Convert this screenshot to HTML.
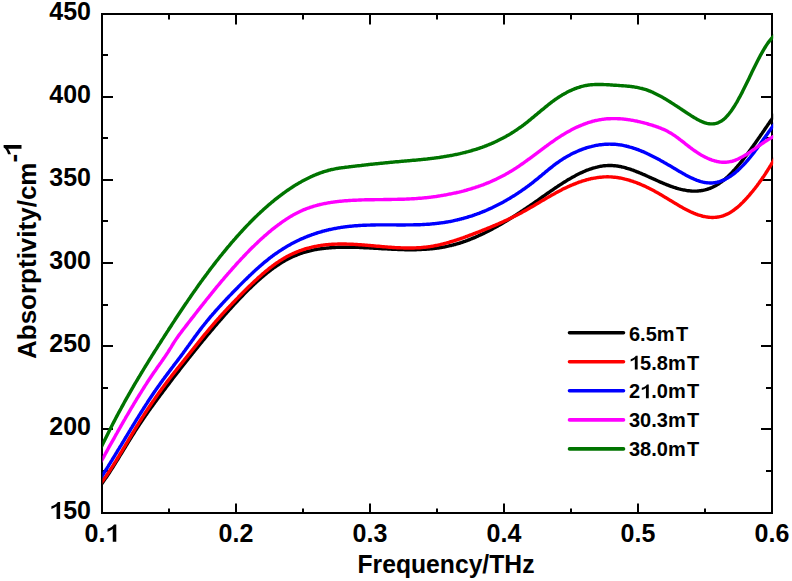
<!DOCTYPE html>
<html><head><meta charset="utf-8"><style>
html,body{margin:0;padding:0;background:#fff;}
svg{display:block;}
text{font-family:"Liberation Sans",sans-serif;font-weight:bold;font-size:25px;fill:#000;}
.lg{font-size:20px;}
.ax{font-size:26px;}
</style></head><body>
<svg width="792" height="581" viewBox="0 0 792 581">
<rect width="792" height="581" fill="#fff"/>
<g stroke="#000" stroke-width="2" fill="none">
<line x1="169.00000000000003" y1="513" x2="169.00000000000003" y2="508.5"/>
<line x1="169.00000000000003" y1="14" x2="169.00000000000003" y2="19.5"/>
<line x1="236.0" y1="513" x2="236.0" y2="503.5"/>
<line x1="236.0" y1="14" x2="236.0" y2="24.5"/>
<line x1="303.0" y1="513" x2="303.0" y2="508.5"/>
<line x1="303.0" y1="14" x2="303.0" y2="19.5"/>
<line x1="370.00000000000006" y1="513" x2="370.00000000000006" y2="503.5"/>
<line x1="370.00000000000006" y1="14" x2="370.00000000000006" y2="24.5"/>
<line x1="436.99999999999994" y1="513" x2="436.99999999999994" y2="508.5"/>
<line x1="436.99999999999994" y1="14" x2="436.99999999999994" y2="19.5"/>
<line x1="504.00000000000006" y1="513" x2="504.00000000000006" y2="503.5"/>
<line x1="504.00000000000006" y1="14" x2="504.00000000000006" y2="24.5"/>
<line x1="571.0000000000001" y1="513" x2="571.0000000000001" y2="508.5"/>
<line x1="571.0000000000001" y1="14" x2="571.0000000000001" y2="19.5"/>
<line x1="638.0" y1="513" x2="638.0" y2="503.5"/>
<line x1="638.0" y1="14" x2="638.0" y2="24.5"/>
<line x1="705.0000000000001" y1="513" x2="705.0000000000001" y2="508.5"/>
<line x1="705.0000000000001" y1="14" x2="705.0000000000001" y2="19.5"/>
<line x1="102" y1="471.00" x2="108" y2="471.00"/>
<line x1="772" y1="471.00" x2="766" y2="471.00"/>
<line x1="102" y1="429.00" x2="113" y2="429.00"/>
<line x1="772" y1="429.00" x2="761" y2="429.00"/>
<line x1="102" y1="388.00" x2="108" y2="388.00"/>
<line x1="772" y1="388.00" x2="766" y2="388.00"/>
<line x1="102" y1="346.00" x2="113" y2="346.00"/>
<line x1="772" y1="346.00" x2="761" y2="346.00"/>
<line x1="102" y1="305.00" x2="108" y2="305.00"/>
<line x1="772" y1="305.00" x2="766" y2="305.00"/>
<line x1="102" y1="263.00" x2="113" y2="263.00"/>
<line x1="772" y1="263.00" x2="761" y2="263.00"/>
<line x1="102" y1="221.00" x2="108" y2="221.00"/>
<line x1="772" y1="221.00" x2="766" y2="221.00"/>
<line x1="102" y1="180.00" x2="113" y2="180.00"/>
<line x1="772" y1="180.00" x2="761" y2="180.00"/>
<line x1="102" y1="138.00" x2="108" y2="138.00"/>
<line x1="772" y1="138.00" x2="766" y2="138.00"/>
<line x1="102" y1="97.00" x2="113" y2="97.00"/>
<line x1="772" y1="97.00" x2="761" y2="97.00"/>
<line x1="102" y1="55.00" x2="108" y2="55.00"/>
<line x1="772" y1="55.00" x2="766" y2="55.00"/>
<rect x="102" y="14" width="670" height="499" />
</g>
<clipPath id="pc"><rect x="102.5" y="0" width="670.7" height="581"/></clipPath>
<g fill="none" stroke-width="3.4" stroke-linejoin="round" stroke-linecap="butt" clip-path="url(#pc)">
<path d="M99.0,487.4 L100.0,486.1 L101.0,484.7 L102.0,483.4 L103.0,482.0 L104.0,480.6 L105.0,479.1 L106.0,477.7 L107.0,476.2 L108.0,474.7 L109.0,473.2 L110.0,471.7 L111.0,470.1 L112.0,468.6 L113.0,467.0 L114.0,465.4 L115.0,463.8 L116.0,462.2 L117.0,460.6 L118.0,459.0 L119.0,457.4 L120.0,455.7 L121.0,454.1 L122.0,452.5 L123.0,450.8 L124.0,449.2 L125.0,447.6 L126.0,445.9 L127.0,444.3 L128.0,442.7 L129.0,441.0 L130.0,439.4 L131.0,437.8 L132.0,436.2 L133.0,434.6 L134.0,433.0 L135.0,431.4 L136.0,429.9 L137.0,428.3 L138.0,426.8 L139.0,425.3 L140.0,423.7 L141.0,422.2 L142.0,420.8 L143.0,419.3 L144.0,417.8 L145.0,416.4 L146.0,414.9 L147.0,413.5 L148.0,412.1 L149.0,410.6 L150.0,409.2 L151.0,407.8 L152.0,406.4 L153.0,405.1 L154.0,403.7 L155.0,402.3 L156.0,400.9 L157.0,399.6 L158.0,398.2 L159.0,396.9 L160.0,395.5 L161.0,394.2 L162.0,392.9 L163.0,391.5 L164.0,390.2 L165.0,388.9 L166.0,387.5 L167.0,386.2 L168.0,384.9 L169.0,383.6 L170.0,382.3 L171.0,381.0 L172.0,379.6 L173.0,378.3 L174.0,377.0 L175.0,375.7 L176.0,374.4 L177.0,373.1 L178.0,371.9 L179.0,370.6 L180.0,369.3 L181.0,368.0 L182.0,366.7 L183.0,365.4 L184.0,364.2 L185.0,362.9 L186.0,361.6 L187.0,360.4 L188.0,359.1 L189.0,357.8 L190.0,356.6 L191.0,355.3 L192.0,354.1 L193.0,352.8 L194.0,351.6 L195.0,350.3 L196.0,349.1 L197.0,347.9 L198.0,346.6 L199.0,345.4 L200.0,344.2 L201.0,343.0 L202.0,341.8 L203.0,340.5 L204.0,339.3 L205.0,338.1 L206.0,336.9 L207.0,335.7 L208.0,334.5 L209.0,333.3 L210.0,332.1 L211.0,330.9 L212.0,329.8 L213.0,328.6 L214.0,327.4 L215.0,326.2 L216.0,325.1 L217.0,323.9 L218.0,322.7 L219.0,321.6 L220.0,320.4 L221.0,319.3 L222.0,318.1 L223.0,317.0 L224.0,315.8 L225.0,314.7 L226.0,313.6 L227.0,312.4 L228.0,311.3 L229.0,310.2 L230.0,309.1 L231.0,308.0 L232.0,306.9 L233.0,305.8 L234.0,304.7 L235.0,303.6 L236.0,302.5 L237.0,301.5 L238.0,300.4 L239.0,299.3 L240.0,298.3 L241.0,297.2 L242.0,296.2 L243.0,295.2 L244.0,294.1 L245.0,293.1 L246.0,292.1 L247.0,291.1 L248.0,290.1 L249.0,289.1 L250.0,288.2 L251.0,287.2 L252.0,286.2 L253.0,285.3 L254.0,284.4 L255.0,283.4 L256.0,282.5 L257.0,281.6 L258.0,280.7 L259.0,279.8 L260.0,278.9 L261.0,278.0 L262.0,277.2 L263.0,276.3 L264.0,275.5 L265.0,274.7 L266.0,273.8 L267.0,273.0 L268.0,272.2 L269.0,271.5 L270.0,270.7 L271.0,269.9 L272.0,269.2 L273.0,268.4 L274.0,267.7 L275.0,267.0 L276.0,266.3 L277.0,265.6 L278.0,265.0 L279.0,264.3 L280.0,263.6 L281.0,263.0 L282.0,262.4 L283.0,261.8 L284.0,261.2 L285.0,260.6 L286.0,260.1 L287.0,259.5 L288.0,259.0 L289.0,258.5 L290.0,258.0 L291.0,257.5 L292.0,257.0 L293.0,256.5 L294.0,256.1 L295.0,255.7 L296.0,255.3 L297.0,254.9 L298.0,254.5 L299.0,254.1 L300.0,253.7 L301.0,253.4 L302.0,253.0 L303.0,252.7 L304.0,252.4 L305.0,252.1 L306.0,251.8 L307.0,251.5 L308.0,251.3 L309.0,251.0 L310.0,250.8 L311.0,250.6 L312.0,250.3 L313.0,250.1 L314.0,249.9 L315.0,249.7 L316.0,249.5 L317.0,249.4 L318.0,249.2 L319.0,249.0 L320.0,248.9 L321.0,248.7 L322.0,248.6 L323.0,248.5 L324.0,248.4 L325.0,248.3 L326.0,248.1 L327.0,248.0 L328.0,248.0 L329.0,247.9 L330.0,247.8 L331.0,247.7 L332.0,247.6 L333.0,247.6 L334.0,247.5 L335.0,247.5 L336.0,247.4 L337.0,247.4 L338.0,247.3 L339.0,247.3 L340.0,247.3 L341.0,247.3 L342.0,247.2 L343.0,247.2 L344.0,247.2 L345.0,247.2 L346.0,247.2 L347.0,247.2 L348.0,247.2 L349.0,247.2 L350.0,247.2 L351.0,247.2 L352.0,247.3 L353.0,247.3 L354.0,247.3 L355.0,247.3 L356.0,247.3 L357.0,247.4 L358.0,247.4 L359.0,247.4 L360.0,247.5 L361.0,247.5 L362.0,247.6 L363.0,247.6 L364.0,247.7 L365.0,247.7 L366.0,247.8 L367.0,247.8 L368.0,247.9 L369.0,247.9 L370.0,248.0 L371.0,248.0 L372.0,248.1 L373.0,248.1 L374.0,248.2 L375.0,248.2 L376.0,248.3 L377.0,248.4 L378.0,248.4 L379.0,248.5 L380.0,248.5 L381.0,248.6 L382.0,248.7 L383.0,248.7 L384.0,248.8 L385.0,248.8 L386.0,248.9 L387.0,248.9 L388.0,249.0 L389.0,249.0 L390.0,249.1 L391.0,249.1 L392.0,249.2 L393.0,249.2 L394.0,249.3 L395.0,249.3 L396.0,249.4 L397.0,249.4 L398.0,249.5 L399.0,249.5 L400.0,249.5 L401.0,249.6 L402.0,249.6 L403.0,249.6 L404.0,249.6 L405.0,249.7 L406.0,249.7 L407.0,249.7 L408.0,249.7 L409.0,249.7 L410.0,249.7 L411.0,249.7 L412.0,249.7 L413.0,249.7 L414.0,249.7 L415.0,249.7 L416.0,249.7 L417.0,249.6 L418.0,249.6 L419.0,249.6 L420.0,249.5 L421.0,249.5 L422.0,249.4 L423.0,249.4 L424.0,249.3 L425.0,249.3 L426.0,249.2 L427.0,249.1 L428.0,249.1 L429.0,249.0 L430.0,248.9 L431.0,248.8 L432.0,248.7 L433.0,248.6 L434.0,248.5 L435.0,248.4 L436.0,248.2 L437.0,248.1 L438.0,248.0 L439.0,247.8 L440.0,247.7 L441.0,247.5 L442.0,247.3 L443.0,247.2 L444.0,247.0 L445.0,246.8 L446.0,246.6 L447.0,246.4 L448.0,246.2 L449.0,245.9 L450.0,245.7 L451.0,245.5 L452.0,245.2 L453.0,245.0 L454.0,244.7 L455.0,244.5 L456.0,244.2 L457.0,243.9 L458.0,243.6 L459.0,243.3 L460.0,243.0 L461.0,242.7 L462.0,242.3 L463.0,242.0 L464.0,241.6 L465.0,241.3 L466.0,240.9 L467.0,240.6 L468.0,240.2 L469.0,239.8 L470.0,239.4 L471.0,239.0 L472.0,238.6 L473.0,238.2 L474.0,237.8 L475.0,237.4 L476.0,236.9 L477.0,236.5 L478.0,236.1 L479.0,235.6 L480.0,235.1 L481.0,234.7 L482.0,234.2 L483.0,233.7 L484.0,233.3 L485.0,232.8 L486.0,232.3 L487.0,231.8 L488.0,231.3 L489.0,230.7 L490.0,230.2 L491.0,229.7 L492.0,229.2 L493.0,228.6 L494.0,228.1 L495.0,227.5 L496.0,227.0 L497.0,226.4 L498.0,225.9 L499.0,225.3 L500.0,224.7 L501.0,224.2 L502.0,223.6 L503.0,223.0 L504.0,222.4 L505.0,221.8 L506.0,221.2 L507.0,220.6 L508.0,220.0 L509.0,219.4 L510.0,218.7 L511.0,218.1 L512.0,217.5 L513.0,216.9 L514.0,216.2 L515.0,215.6 L516.0,215.0 L517.0,214.3 L518.0,213.7 L519.0,213.0 L520.0,212.4 L521.0,211.7 L522.0,211.0 L523.0,210.4 L524.0,209.7 L525.0,209.0 L526.0,208.4 L527.0,207.7 L528.0,207.0 L529.0,206.3 L530.0,205.6 L531.0,204.9 L532.0,204.3 L533.0,203.6 L534.0,202.9 L535.0,202.2 L536.0,201.5 L537.0,200.8 L538.0,200.1 L539.0,199.4 L540.0,198.7 L541.0,198.0 L542.0,197.2 L543.0,196.5 L544.0,195.8 L545.0,195.1 L546.0,194.4 L547.0,193.7 L548.0,193.0 L549.0,192.3 L550.0,191.6 L551.0,190.9 L552.0,190.3 L553.0,189.6 L554.0,188.9 L555.0,188.2 L556.0,187.5 L557.0,186.9 L558.0,186.2 L559.0,185.5 L560.0,184.9 L561.0,184.2 L562.0,183.6 L563.0,182.9 L564.0,182.3 L565.0,181.7 L566.0,181.1 L567.0,180.4 L568.0,179.8 L569.0,179.2 L570.0,178.7 L571.0,178.1 L572.0,177.5 L573.0,176.9 L574.0,176.4 L575.0,175.9 L576.0,175.3 L577.0,174.8 L578.0,174.3 L579.0,173.8 L580.0,173.3 L581.0,172.8 L582.0,172.4 L583.0,171.9 L584.0,171.5 L585.0,171.1 L586.0,170.6 L587.0,170.2 L588.0,169.9 L589.0,169.5 L590.0,169.1 L591.0,168.8 L592.0,168.5 L593.0,168.1 L594.0,167.8 L595.0,167.6 L596.0,167.3 L597.0,167.1 L598.0,166.8 L599.0,166.6 L600.0,166.4 L601.0,166.2 L602.0,166.1 L603.0,165.9 L604.0,165.8 L605.0,165.7 L606.0,165.6 L607.0,165.6 L608.0,165.5 L609.0,165.5 L610.0,165.5 L611.0,165.5 L612.0,165.5 L613.0,165.6 L614.0,165.7 L615.0,165.8 L616.0,165.9 L617.0,166.0 L618.0,166.2 L619.0,166.3 L620.0,166.5 L621.0,166.7 L622.0,167.0 L623.0,167.2 L624.0,167.4 L625.0,167.7 L626.0,168.0 L627.0,168.3 L628.0,168.6 L629.0,168.9 L630.0,169.2 L631.0,169.5 L632.0,169.9 L633.0,170.2 L634.0,170.6 L635.0,171.0 L636.0,171.4 L637.0,171.8 L638.0,172.2 L639.0,172.6 L640.0,173.0 L641.0,173.4 L642.0,173.8 L643.0,174.3 L644.0,174.7 L645.0,175.1 L646.0,175.6 L647.0,176.0 L648.0,176.5 L649.0,176.9 L650.0,177.4 L651.0,177.8 L652.0,178.3 L653.0,178.7 L654.0,179.2 L655.0,179.6 L656.0,180.1 L657.0,180.5 L658.0,181.0 L659.0,181.4 L660.0,181.9 L661.0,182.3 L662.0,182.7 L663.0,183.2 L664.0,183.6 L665.0,184.0 L666.0,184.4 L667.0,184.8 L668.0,185.2 L669.0,185.6 L670.0,186.0 L671.0,186.3 L672.0,186.7 L673.0,187.0 L674.0,187.4 L675.0,187.7 L676.0,188.0 L677.0,188.3 L678.0,188.6 L679.0,188.9 L680.0,189.1 L681.0,189.4 L682.0,189.6 L683.0,189.8 L684.0,190.0 L685.0,190.2 L686.0,190.4 L687.0,190.6 L688.0,190.7 L689.0,190.8 L690.0,190.9 L691.0,191.0 L692.0,191.1 L693.0,191.1 L694.0,191.1 L695.0,191.1 L696.0,191.1 L697.0,191.1 L698.0,191.0 L699.0,190.9 L700.0,190.8 L701.0,190.7 L702.0,190.5 L703.0,190.3 L704.0,190.1 L705.0,189.9 L706.0,189.6 L707.0,189.3 L708.0,189.0 L709.0,188.7 L710.0,188.3 L711.0,187.9 L712.0,187.5 L713.0,187.0 L714.0,186.5 L715.0,186.0 L716.0,185.5 L717.0,184.9 L718.0,184.3 L719.0,183.6 L720.0,182.9 L721.0,182.2 L722.0,181.5 L723.0,180.7 L724.0,179.9 L725.0,179.1 L726.0,178.2 L727.0,177.3 L728.0,176.4 L729.0,175.4 L730.0,174.4 L731.0,173.4 L732.0,172.4 L733.0,171.3 L734.0,170.3 L735.0,169.2 L736.0,168.0 L737.0,166.9 L738.0,165.7 L739.0,164.5 L740.0,163.3 L741.0,162.1 L742.0,160.9 L743.0,159.6 L744.0,158.3 L745.0,157.0 L746.0,155.7 L747.0,154.4 L748.0,153.1 L749.0,151.7 L750.0,150.4 L751.0,149.0 L752.0,147.6 L753.0,146.2 L754.0,144.8 L755.0,143.4 L756.0,142.0 L757.0,140.6 L758.0,139.1 L759.0,137.7 L760.0,136.3 L761.0,134.8 L762.0,133.4 L763.0,131.9 L764.0,130.5 L765.0,129.0 L766.0,127.6 L767.0,126.1 L768.0,124.6 L769.0,123.2 L770.0,121.7 L771.0,120.3 L772.0,118.9 L773.0,117.4 L774.0,116.0 L775.0,114.6 L776.0,113.2" stroke="#000000" />
<path d="M99.0,485.6 L100.0,484.3 L101.0,483.0 L102.0,481.7 L103.0,480.4 L104.0,479.0 L105.0,477.6 L106.0,476.2 L107.0,474.7 L108.0,473.2 L109.0,471.7 L110.0,470.2 L111.0,468.7 L112.0,467.1 L113.0,465.6 L114.0,464.0 L115.0,462.4 L116.0,460.8 L117.0,459.1 L118.0,457.5 L119.0,455.9 L120.0,454.2 L121.0,452.5 L122.0,450.9 L123.0,449.2 L124.0,447.5 L125.0,445.9 L126.0,444.2 L127.0,442.5 L128.0,440.8 L129.0,439.1 L130.0,437.5 L131.0,435.8 L132.0,434.1 L133.0,432.5 L134.0,430.8 L135.0,429.2 L136.0,427.5 L137.0,425.9 L138.0,424.3 L139.0,422.7 L140.0,421.1 L141.0,419.5 L142.0,417.9 L143.0,416.4 L144.0,414.8 L145.0,413.3 L146.0,411.8 L147.0,410.2 L148.0,408.7 L149.0,407.2 L150.0,405.7 L151.0,404.2 L152.0,402.8 L153.0,401.3 L154.0,399.9 L155.0,398.4 L156.0,397.0 L157.0,395.6 L158.0,394.1 L159.0,392.7 L160.0,391.4 L161.0,390.0 L162.0,388.6 L163.0,387.3 L164.0,385.9 L165.0,384.6 L166.0,383.2 L167.0,381.9 L168.0,380.6 L169.0,379.3 L170.0,378.0 L171.0,376.7 L172.0,375.4 L173.0,374.2 L174.0,372.9 L175.0,371.6 L176.0,370.4 L177.0,369.1 L178.0,367.8 L179.0,366.6 L180.0,365.3 L181.0,364.1 L182.0,362.9 L183.0,361.6 L184.0,360.4 L185.0,359.1 L186.0,357.9 L187.0,356.7 L188.0,355.4 L189.0,354.2 L190.0,352.9 L191.0,351.7 L192.0,350.4 L193.0,349.2 L194.0,347.9 L195.0,346.7 L196.0,345.4 L197.0,344.2 L198.0,342.9 L199.0,341.7 L200.0,340.4 L201.0,339.2 L202.0,337.9 L203.0,336.7 L204.0,335.4 L205.0,334.2 L206.0,333.0 L207.0,331.8 L208.0,330.6 L209.0,329.4 L210.0,328.2 L211.0,327.0 L212.0,325.8 L213.0,324.7 L214.0,323.5 L215.0,322.4 L216.0,321.2 L217.0,320.1 L218.0,319.0 L219.0,317.9 L220.0,316.7 L221.0,315.6 L222.0,314.5 L223.0,313.4 L224.0,312.3 L225.0,311.3 L226.0,310.2 L227.0,309.1 L228.0,308.0 L229.0,307.0 L230.0,305.9 L231.0,304.9 L232.0,303.8 L233.0,302.8 L234.0,301.7 L235.0,300.7 L236.0,299.6 L237.0,298.6 L238.0,297.6 L239.0,296.5 L240.0,295.5 L241.0,294.5 L242.0,293.5 L243.0,292.5 L244.0,291.5 L245.0,290.5 L246.0,289.5 L247.0,288.5 L248.0,287.5 L249.0,286.5 L250.0,285.6 L251.0,284.6 L252.0,283.6 L253.0,282.7 L254.0,281.7 L255.0,280.8 L256.0,279.9 L257.0,279.0 L258.0,278.0 L259.0,277.1 L260.0,276.3 L261.0,275.4 L262.0,274.5 L263.0,273.6 L264.0,272.8 L265.0,271.9 L266.0,271.1 L267.0,270.3 L268.0,269.5 L269.0,268.7 L270.0,267.9 L271.0,267.1 L272.0,266.4 L273.0,265.6 L274.0,264.9 L275.0,264.1 L276.0,263.4 L277.0,262.7 L278.0,262.1 L279.0,261.4 L280.0,260.7 L281.0,260.1 L282.0,259.5 L283.0,258.9 L284.0,258.3 L285.0,257.7 L286.0,257.1 L287.0,256.6 L288.0,256.1 L289.0,255.5 L290.0,255.0 L291.0,254.5 L292.0,254.1 L293.0,253.6 L294.0,253.2 L295.0,252.7 L296.0,252.3 L297.0,251.9 L298.0,251.5 L299.0,251.1 L300.0,250.7 L301.0,250.4 L302.0,250.0 L303.0,249.7 L304.0,249.3 L305.0,249.0 L306.0,248.7 L307.0,248.4 L308.0,248.1 L309.0,247.9 L310.0,247.6 L311.0,247.4 L312.0,247.1 L313.0,246.9 L314.0,246.7 L315.0,246.5 L316.0,246.3 L317.0,246.1 L318.0,245.9 L319.0,245.7 L320.0,245.6 L321.0,245.4 L322.0,245.3 L323.0,245.1 L324.0,245.0 L325.0,244.9 L326.0,244.8 L327.0,244.7 L328.0,244.6 L329.0,244.5 L330.0,244.4 L331.0,244.4 L332.0,244.3 L333.0,244.2 L334.0,244.2 L335.0,244.1 L336.0,244.1 L337.0,244.1 L338.0,244.0 L339.0,244.0 L340.0,244.0 L341.0,244.0 L342.0,244.0 L343.0,244.0 L344.0,244.0 L345.0,244.0 L346.0,244.0 L347.0,244.1 L348.0,244.1 L349.0,244.1 L350.0,244.2 L351.0,244.2 L352.0,244.3 L353.0,244.3 L354.0,244.4 L355.0,244.4 L356.0,244.5 L357.0,244.5 L358.0,244.6 L359.0,244.7 L360.0,244.7 L361.0,244.8 L362.0,244.9 L363.0,245.0 L364.0,245.0 L365.0,245.1 L366.0,245.2 L367.0,245.3 L368.0,245.4 L369.0,245.5 L370.0,245.5 L371.0,245.6 L372.0,245.7 L373.0,245.8 L374.0,245.9 L375.0,246.0 L376.0,246.1 L377.0,246.2 L378.0,246.3 L379.0,246.3 L380.0,246.4 L381.0,246.5 L382.0,246.6 L383.0,246.7 L384.0,246.8 L385.0,246.9 L386.0,246.9 L387.0,247.0 L388.0,247.1 L389.0,247.2 L390.0,247.3 L391.0,247.3 L392.0,247.4 L393.0,247.5 L394.0,247.5 L395.0,247.6 L396.0,247.6 L397.0,247.7 L398.0,247.7 L399.0,247.8 L400.0,247.8 L401.0,247.9 L402.0,247.9 L403.0,247.9 L404.0,248.0 L405.0,248.0 L406.0,248.0 L407.0,248.0 L408.0,248.0 L409.0,248.0 L410.0,248.0 L411.0,248.0 L412.0,248.0 L413.0,248.0 L414.0,248.0 L415.0,247.9 L416.0,247.9 L417.0,247.8 L418.0,247.8 L419.0,247.7 L420.0,247.7 L421.0,247.6 L422.0,247.5 L423.0,247.4 L424.0,247.3 L425.0,247.2 L426.0,247.1 L427.0,247.0 L428.0,246.9 L429.0,246.7 L430.0,246.6 L431.0,246.4 L432.0,246.3 L433.0,246.1 L434.0,245.9 L435.0,245.7 L436.0,245.5 L437.0,245.3 L438.0,245.1 L439.0,244.9 L440.0,244.7 L441.0,244.4 L442.0,244.2 L443.0,244.0 L444.0,243.7 L445.0,243.4 L446.0,243.2 L447.0,242.9 L448.0,242.6 L449.0,242.3 L450.0,242.0 L451.0,241.7 L452.0,241.4 L453.0,241.1 L454.0,240.8 L455.0,240.5 L456.0,240.2 L457.0,239.8 L458.0,239.5 L459.0,239.2 L460.0,238.8 L461.0,238.5 L462.0,238.1 L463.0,237.8 L464.0,237.4 L465.0,237.1 L466.0,236.7 L467.0,236.3 L468.0,236.0 L469.0,235.6 L470.0,235.2 L471.0,234.8 L472.0,234.5 L473.0,234.1 L474.0,233.7 L475.0,233.3 L476.0,232.9 L477.0,232.5 L478.0,232.2 L479.0,231.8 L480.0,231.4 L481.0,231.0 L482.0,230.6 L483.0,230.2 L484.0,229.8 L485.0,229.4 L486.0,229.0 L487.0,228.6 L488.0,228.2 L489.0,227.8 L490.0,227.4 L491.0,226.9 L492.0,226.5 L493.0,226.1 L494.0,225.7 L495.0,225.3 L496.0,224.8 L497.0,224.4 L498.0,224.0 L499.0,223.5 L500.0,223.1 L501.0,222.7 L502.0,222.2 L503.0,221.8 L504.0,221.3 L505.0,220.8 L506.0,220.4 L507.0,219.9 L508.0,219.4 L509.0,219.0 L510.0,218.5 L511.0,218.0 L512.0,217.5 L513.0,217.0 L514.0,216.5 L515.0,216.0 L516.0,215.5 L517.0,215.0 L518.0,214.5 L519.0,214.0 L520.0,213.4 L521.0,212.9 L522.0,212.4 L523.0,211.8 L524.0,211.3 L525.0,210.7 L526.0,210.2 L527.0,209.6 L528.0,209.0 L529.0,208.5 L530.0,207.9 L531.0,207.3 L532.0,206.7 L533.0,206.2 L534.0,205.6 L535.0,205.0 L536.0,204.4 L537.0,203.8 L538.0,203.2 L539.0,202.6 L540.0,202.0 L541.0,201.4 L542.0,200.8 L543.0,200.3 L544.0,199.7 L545.0,199.1 L546.0,198.5 L547.0,197.9 L548.0,197.3 L549.0,196.7 L550.0,196.2 L551.0,195.6 L552.0,195.0 L553.0,194.5 L554.0,193.9 L555.0,193.4 L556.0,192.8 L557.0,192.3 L558.0,191.7 L559.0,191.2 L560.0,190.7 L561.0,190.2 L562.0,189.6 L563.0,189.1 L564.0,188.6 L565.0,188.2 L566.0,187.7 L567.0,187.2 L568.0,186.7 L569.0,186.3 L570.0,185.8 L571.0,185.4 L572.0,185.0 L573.0,184.6 L574.0,184.2 L575.0,183.8 L576.0,183.4 L577.0,183.0 L578.0,182.6 L579.0,182.2 L580.0,181.9 L581.0,181.6 L582.0,181.2 L583.0,180.9 L584.0,180.6 L585.0,180.3 L586.0,180.0 L587.0,179.7 L588.0,179.5 L589.0,179.2 L590.0,179.0 L591.0,178.7 L592.0,178.5 L593.0,178.3 L594.0,178.1 L595.0,178.0 L596.0,177.8 L597.0,177.6 L598.0,177.5 L599.0,177.4 L600.0,177.3 L601.0,177.2 L602.0,177.1 L603.0,177.0 L604.0,176.9 L605.0,176.9 L606.0,176.9 L607.0,176.8 L608.0,176.8 L609.0,176.9 L610.0,176.9 L611.0,176.9 L612.0,177.0 L613.0,177.1 L614.0,177.2 L615.0,177.3 L616.0,177.4 L617.0,177.5 L618.0,177.7 L619.0,177.8 L620.0,178.0 L621.0,178.2 L622.0,178.4 L623.0,178.6 L624.0,178.8 L625.0,179.1 L626.0,179.3 L627.0,179.6 L628.0,179.9 L629.0,180.2 L630.0,180.5 L631.0,180.8 L632.0,181.1 L633.0,181.4 L634.0,181.8 L635.0,182.1 L636.0,182.5 L637.0,182.9 L638.0,183.3 L639.0,183.7 L640.0,184.1 L641.0,184.5 L642.0,185.0 L643.0,185.4 L644.0,185.8 L645.0,186.3 L646.0,186.8 L647.0,187.3 L648.0,187.7 L649.0,188.2 L650.0,188.7 L651.0,189.3 L652.0,189.8 L653.0,190.3 L654.0,190.8 L655.0,191.4 L656.0,191.9 L657.0,192.5 L658.0,193.0 L659.0,193.6 L660.0,194.2 L661.0,194.8 L662.0,195.4 L663.0,196.0 L664.0,196.6 L665.0,197.2 L666.0,197.8 L667.0,198.4 L668.0,199.0 L669.0,199.6 L670.0,200.2 L671.0,200.8 L672.0,201.4 L673.0,202.0 L674.0,202.6 L675.0,203.2 L676.0,203.8 L677.0,204.4 L678.0,205.0 L679.0,205.6 L680.0,206.2 L681.0,206.8 L682.0,207.3 L683.0,207.9 L684.0,208.4 L685.0,209.0 L686.0,209.5 L687.0,210.0 L688.0,210.5 L689.0,211.0 L690.0,211.5 L691.0,212.0 L692.0,212.4 L693.0,212.8 L694.0,213.3 L695.0,213.7 L696.0,214.1 L697.0,214.4 L698.0,214.8 L699.0,215.1 L700.0,215.4 L701.0,215.7 L702.0,216.0 L703.0,216.3 L704.0,216.5 L705.0,216.7 L706.0,216.9 L707.0,217.0 L708.0,217.2 L709.0,217.3 L710.0,217.4 L711.0,217.4 L712.0,217.5 L713.0,217.5 L714.0,217.4 L715.0,217.4 L716.0,217.3 L717.0,217.2 L718.0,217.0 L719.0,216.8 L720.0,216.6 L721.0,216.4 L722.0,216.1 L723.0,215.8 L724.0,215.4 L725.0,215.1 L726.0,214.6 L727.0,214.2 L728.0,213.7 L729.0,213.2 L730.0,212.6 L731.0,212.0 L732.0,211.4 L733.0,210.7 L734.0,210.0 L735.0,209.2 L736.0,208.4 L737.0,207.6 L738.0,206.8 L739.0,205.9 L740.0,205.0 L741.0,204.0 L742.0,203.1 L743.0,202.1 L744.0,201.0 L745.0,200.0 L746.0,198.9 L747.0,197.8 L748.0,196.7 L749.0,195.6 L750.0,194.4 L751.0,193.2 L752.0,192.0 L753.0,190.8 L754.0,189.5 L755.0,188.3 L756.0,187.0 L757.0,185.7 L758.0,184.3 L759.0,183.0 L760.0,181.6 L761.0,180.2 L762.0,178.8 L763.0,177.3 L764.0,175.9 L765.0,174.4 L766.0,172.8 L767.0,171.3 L768.0,169.7 L769.0,168.1 L770.0,166.5 L771.0,164.9 L772.0,163.2 L773.0,161.5 L774.0,159.8 L775.0,158.1 L776.0,156.3" stroke="#ff0000" />
<path d="M99.0,480.7 L100.0,479.2 L101.0,477.6 L102.0,476.1 L103.0,474.5 L104.0,472.9 L105.0,471.3 L106.0,469.7 L107.0,468.2 L108.0,466.6 L109.0,464.9 L110.0,463.3 L111.0,461.7 L112.0,460.1 L113.0,458.4 L114.0,456.8 L115.0,455.2 L116.0,453.5 L117.0,451.9 L118.0,450.2 L119.0,448.6 L120.0,446.9 L121.0,445.3 L122.0,443.6 L123.0,442.0 L124.0,440.3 L125.0,438.6 L126.0,437.0 L127.0,435.3 L128.0,433.7 L129.0,432.0 L130.0,430.4 L131.0,428.7 L132.0,427.1 L133.0,425.4 L134.0,423.8 L135.0,422.2 L136.0,420.5 L137.0,418.9 L138.0,417.3 L139.0,415.7 L140.0,414.1 L141.0,412.5 L142.0,410.9 L143.0,409.3 L144.0,407.7 L145.0,406.2 L146.0,404.6 L147.0,403.1 L148.0,401.5 L149.0,400.0 L150.0,398.5 L151.0,397.0 L152.0,395.5 L153.0,394.0 L154.0,392.5 L155.0,391.1 L156.0,389.6 L157.0,388.2 L158.0,386.8 L159.0,385.4 L160.0,384.0 L161.0,382.6 L162.0,381.2 L163.0,379.8 L164.0,378.5 L165.0,377.1 L166.0,375.8 L167.0,374.4 L168.0,373.1 L169.0,371.8 L170.0,370.4 L171.0,369.1 L172.0,367.8 L173.0,366.5 L174.0,365.1 L175.0,363.8 L176.0,362.5 L177.0,361.2 L178.0,359.9 L179.0,358.5 L180.0,357.2 L181.0,355.9 L182.0,354.5 L183.0,353.2 L184.0,351.8 L185.0,350.5 L186.0,349.1 L187.0,347.7 L188.0,346.3 L189.0,345.0 L190.0,343.6 L191.0,342.2 L192.0,340.8 L193.0,339.4 L194.0,338.0 L195.0,336.6 L196.0,335.3 L197.0,333.9 L198.0,332.6 L199.0,331.2 L200.0,329.9 L201.0,328.6 L202.0,327.3 L203.0,326.0 L204.0,324.8 L205.0,323.5 L206.0,322.3 L207.0,321.0 L208.0,319.8 L209.0,318.6 L210.0,317.4 L211.0,316.2 L212.0,315.1 L213.0,313.9 L214.0,312.8 L215.0,311.6 L216.0,310.5 L217.0,309.4 L218.0,308.3 L219.0,307.2 L220.0,306.1 L221.0,305.0 L222.0,303.9 L223.0,302.8 L224.0,301.7 L225.0,300.7 L226.0,299.6 L227.0,298.5 L228.0,297.5 L229.0,296.4 L230.0,295.4 L231.0,294.4 L232.0,293.3 L233.0,292.3 L234.0,291.2 L235.0,290.2 L236.0,289.2 L237.0,288.2 L238.0,287.2 L239.0,286.1 L240.0,285.1 L241.0,284.1 L242.0,283.1 L243.0,282.1 L244.0,281.1 L245.0,280.1 L246.0,279.2 L247.0,278.2 L248.0,277.2 L249.0,276.3 L250.0,275.3 L251.0,274.4 L252.0,273.4 L253.0,272.5 L254.0,271.6 L255.0,270.6 L256.0,269.7 L257.0,268.8 L258.0,267.9 L259.0,267.0 L260.0,266.2 L261.0,265.3 L262.0,264.4 L263.0,263.6 L264.0,262.7 L265.0,261.9 L266.0,261.1 L267.0,260.3 L268.0,259.5 L269.0,258.7 L270.0,257.9 L271.0,257.2 L272.0,256.4 L273.0,255.7 L274.0,254.9 L275.0,254.2 L276.0,253.5 L277.0,252.8 L278.0,252.1 L279.0,251.4 L280.0,250.8 L281.0,250.1 L282.0,249.5 L283.0,248.8 L284.0,248.2 L285.0,247.6 L286.0,247.0 L287.0,246.4 L288.0,245.8 L289.0,245.3 L290.0,244.7 L291.0,244.1 L292.0,243.6 L293.0,243.1 L294.0,242.5 L295.0,242.0 L296.0,241.5 L297.0,241.0 L298.0,240.5 L299.0,240.1 L300.0,239.6 L301.0,239.1 L302.0,238.7 L303.0,238.3 L304.0,237.8 L305.0,237.4 L306.0,237.0 L307.0,236.6 L308.0,236.2 L309.0,235.8 L310.0,235.4 L311.0,235.1 L312.0,234.7 L313.0,234.4 L314.0,234.0 L315.0,233.7 L316.0,233.3 L317.0,233.0 L318.0,232.7 L319.0,232.4 L320.0,232.1 L321.0,231.8 L322.0,231.5 L323.0,231.2 L324.0,231.0 L325.0,230.7 L326.0,230.5 L327.0,230.2 L328.0,230.0 L329.0,229.7 L330.0,229.5 L331.0,229.3 L332.0,229.1 L333.0,228.9 L334.0,228.7 L335.0,228.5 L336.0,228.3 L337.0,228.1 L338.0,227.9 L339.0,227.8 L340.0,227.6 L341.0,227.4 L342.0,227.3 L343.0,227.1 L344.0,227.0 L345.0,226.9 L346.0,226.7 L347.0,226.6 L348.0,226.5 L349.0,226.4 L350.0,226.3 L351.0,226.2 L352.0,226.1 L353.0,226.0 L354.0,225.9 L355.0,225.8 L356.0,225.7 L357.0,225.7 L358.0,225.6 L359.0,225.5 L360.0,225.5 L361.0,225.4 L362.0,225.4 L363.0,225.3 L364.0,225.3 L365.0,225.2 L366.0,225.2 L367.0,225.1 L368.0,225.1 L369.0,225.1 L370.0,225.1 L371.0,225.0 L372.0,225.0 L373.0,225.0 L374.0,225.0 L375.0,225.0 L376.0,224.9 L377.0,224.9 L378.0,224.9 L379.0,224.9 L380.0,224.9 L381.0,224.9 L382.0,224.9 L383.0,224.9 L384.0,224.9 L385.0,224.9 L386.0,224.9 L387.0,224.9 L388.0,224.9 L389.0,224.9 L390.0,224.9 L391.0,224.9 L392.0,224.9 L393.0,224.9 L394.0,224.9 L395.0,224.9 L396.0,224.9 L397.0,225.0 L398.0,225.0 L399.0,225.0 L400.0,225.0 L401.0,225.0 L402.0,225.0 L403.0,225.0 L404.0,225.0 L405.0,225.0 L406.0,224.9 L407.0,224.9 L408.0,224.9 L409.0,224.9 L410.0,224.9 L411.0,224.9 L412.0,224.9 L413.0,224.9 L414.0,224.8 L415.0,224.8 L416.0,224.8 L417.0,224.8 L418.0,224.7 L419.0,224.7 L420.0,224.7 L421.0,224.6 L422.0,224.6 L423.0,224.5 L424.0,224.5 L425.0,224.4 L426.0,224.4 L427.0,224.3 L428.0,224.2 L429.0,224.2 L430.0,224.1 L431.0,224.0 L432.0,223.9 L433.0,223.8 L434.0,223.7 L435.0,223.6 L436.0,223.5 L437.0,223.4 L438.0,223.3 L439.0,223.2 L440.0,223.0 L441.0,222.9 L442.0,222.8 L443.0,222.6 L444.0,222.5 L445.0,222.3 L446.0,222.2 L447.0,222.0 L448.0,221.8 L449.0,221.6 L450.0,221.5 L451.0,221.3 L452.0,221.1 L453.0,220.9 L454.0,220.6 L455.0,220.4 L456.0,220.2 L457.0,220.0 L458.0,219.7 L459.0,219.5 L460.0,219.2 L461.0,219.0 L462.0,218.7 L463.0,218.5 L464.0,218.2 L465.0,217.9 L466.0,217.6 L467.0,217.3 L468.0,217.0 L469.0,216.7 L470.0,216.4 L471.0,216.1 L472.0,215.8 L473.0,215.4 L474.0,215.1 L475.0,214.7 L476.0,214.4 L477.0,214.0 L478.0,213.6 L479.0,213.3 L480.0,212.9 L481.0,212.5 L482.0,212.1 L483.0,211.7 L484.0,211.3 L485.0,210.9 L486.0,210.5 L487.0,210.0 L488.0,209.6 L489.0,209.1 L490.0,208.7 L491.0,208.2 L492.0,207.8 L493.0,207.3 L494.0,206.8 L495.0,206.3 L496.0,205.8 L497.0,205.3 L498.0,204.8 L499.0,204.3 L500.0,203.8 L501.0,203.3 L502.0,202.7 L503.0,202.2 L504.0,201.6 L505.0,201.1 L506.0,200.5 L507.0,199.9 L508.0,199.3 L509.0,198.8 L510.0,198.2 L511.0,197.5 L512.0,196.9 L513.0,196.3 L514.0,195.7 L515.0,195.1 L516.0,194.4 L517.0,193.8 L518.0,193.1 L519.0,192.4 L520.0,191.8 L521.0,191.1 L522.0,190.4 L523.0,189.7 L524.0,189.0 L525.0,188.3 L526.0,187.5 L527.0,186.8 L528.0,186.1 L529.0,185.3 L530.0,184.6 L531.0,183.8 L532.0,183.1 L533.0,182.3 L534.0,181.5 L535.0,180.7 L536.0,179.9 L537.0,179.1 L538.0,178.3 L539.0,177.4 L540.0,176.6 L541.0,175.8 L542.0,175.0 L543.0,174.1 L544.0,173.3 L545.0,172.5 L546.0,171.6 L547.0,170.8 L548.0,170.0 L549.0,169.2 L550.0,168.4 L551.0,167.6 L552.0,166.8 L553.0,166.0 L554.0,165.2 L555.0,164.5 L556.0,163.7 L557.0,163.0 L558.0,162.3 L559.0,161.6 L560.0,160.9 L561.0,160.2 L562.0,159.6 L563.0,158.9 L564.0,158.3 L565.0,157.7 L566.0,157.1 L567.0,156.5 L568.0,156.0 L569.0,155.4 L570.0,154.9 L571.0,154.3 L572.0,153.8 L573.0,153.3 L574.0,152.8 L575.0,152.4 L576.0,151.9 L577.0,151.5 L578.0,151.0 L579.0,150.6 L580.0,150.2 L581.0,149.8 L582.0,149.4 L583.0,149.0 L584.0,148.7 L585.0,148.3 L586.0,148.0 L587.0,147.7 L588.0,147.4 L589.0,147.1 L590.0,146.8 L591.0,146.6 L592.0,146.3 L593.0,146.1 L594.0,145.9 L595.0,145.6 L596.0,145.4 L597.0,145.3 L598.0,145.1 L599.0,144.9 L600.0,144.8 L601.0,144.7 L602.0,144.6 L603.0,144.5 L604.0,144.4 L605.0,144.3 L606.0,144.2 L607.0,144.2 L608.0,144.2 L609.0,144.1 L610.0,144.1 L611.0,144.2 L612.0,144.2 L613.0,144.2 L614.0,144.3 L615.0,144.3 L616.0,144.4 L617.0,144.5 L618.0,144.6 L619.0,144.8 L620.0,144.9 L621.0,145.0 L622.0,145.2 L623.0,145.4 L624.0,145.6 L625.0,145.8 L626.0,146.0 L627.0,146.3 L628.0,146.5 L629.0,146.8 L630.0,147.1 L631.0,147.3 L632.0,147.6 L633.0,148.0 L634.0,148.3 L635.0,148.6 L636.0,149.0 L637.0,149.3 L638.0,149.7 L639.0,150.1 L640.0,150.5 L641.0,150.9 L642.0,151.3 L643.0,151.7 L644.0,152.1 L645.0,152.6 L646.0,153.0 L647.0,153.5 L648.0,154.0 L649.0,154.4 L650.0,154.9 L651.0,155.4 L652.0,155.9 L653.0,156.4 L654.0,156.9 L655.0,157.4 L656.0,158.0 L657.0,158.5 L658.0,159.0 L659.0,159.6 L660.0,160.1 L661.0,160.7 L662.0,161.2 L663.0,161.8 L664.0,162.4 L665.0,162.9 L666.0,163.5 L667.0,164.1 L668.0,164.7 L669.0,165.2 L670.0,165.8 L671.0,166.4 L672.0,167.0 L673.0,167.6 L674.0,168.2 L675.0,168.8 L676.0,169.4 L677.0,170.0 L678.0,170.6 L679.0,171.2 L680.0,171.8 L681.0,172.3 L682.0,172.9 L683.0,173.5 L684.0,174.1 L685.0,174.6 L686.0,175.2 L687.0,175.7 L688.0,176.2 L689.0,176.7 L690.0,177.2 L691.0,177.7 L692.0,178.2 L693.0,178.6 L694.0,179.1 L695.0,179.5 L696.0,179.9 L697.0,180.3 L698.0,180.6 L699.0,181.0 L700.0,181.3 L701.0,181.6 L702.0,181.8 L703.0,182.1 L704.0,182.3 L705.0,182.5 L706.0,182.6 L707.0,182.8 L708.0,182.9 L709.0,182.9 L710.0,183.0 L711.0,183.0 L712.0,183.0 L713.0,182.9 L714.0,182.8 L715.0,182.7 L716.0,182.5 L717.0,182.3 L718.0,182.0 L719.0,181.8 L720.0,181.5 L721.0,181.1 L722.0,180.7 L723.0,180.3 L724.0,179.9 L725.0,179.4 L726.0,178.9 L727.0,178.3 L728.0,177.7 L729.0,177.1 L730.0,176.5 L731.0,175.8 L732.0,175.1 L733.0,174.4 L734.0,173.6 L735.0,172.8 L736.0,172.0 L737.0,171.1 L738.0,170.3 L739.0,169.3 L740.0,168.4 L741.0,167.4 L742.0,166.4 L743.0,165.4 L744.0,164.3 L745.0,163.3 L746.0,162.2 L747.0,161.0 L748.0,159.9 L749.0,158.7 L750.0,157.5 L751.0,156.2 L752.0,155.0 L753.0,153.7 L754.0,152.4 L755.0,151.0 L756.0,149.7 L757.0,148.4 L758.0,147.0 L759.0,145.6 L760.0,144.2 L761.0,142.8 L762.0,141.4 L763.0,140.0 L764.0,138.6 L765.0,137.2 L766.0,135.8 L767.0,134.4 L768.0,133.0 L769.0,131.6 L770.0,130.2 L771.0,128.8 L772.0,127.4 L773.0,126.1 L774.0,124.8 L775.0,123.4 L776.0,122.1" stroke="#0000ff" />
<path d="M99.0,465.3 L100.0,463.5 L101.0,461.7 L102.0,459.9 L103.0,458.1 L104.0,456.3 L105.0,454.5 L106.0,452.6 L107.0,450.8 L108.0,449.0 L109.0,447.2 L110.0,445.4 L111.0,443.7 L112.0,441.9 L113.0,440.1 L114.0,438.3 L115.0,436.5 L116.0,434.7 L117.0,433.0 L118.0,431.2 L119.0,429.4 L120.0,427.7 L121.0,425.9 L122.0,424.2 L123.0,422.4 L124.0,420.7 L125.0,419.0 L126.0,417.2 L127.0,415.5 L128.0,413.8 L129.0,412.1 L130.0,410.4 L131.0,408.7 L132.0,407.0 L133.0,405.4 L134.0,403.7 L135.0,402.0 L136.0,400.4 L137.0,398.7 L138.0,397.1 L139.0,395.5 L140.0,393.9 L141.0,392.3 L142.0,390.7 L143.0,389.1 L144.0,387.5 L145.0,385.9 L146.0,384.4 L147.0,382.8 L148.0,381.3 L149.0,379.8 L150.0,378.3 L151.0,376.8 L152.0,375.3 L153.0,373.8 L154.0,372.3 L155.0,370.9 L156.0,369.5 L157.0,368.0 L158.0,366.6 L159.0,365.2 L160.0,363.8 L161.0,362.4 L162.0,360.9 L163.0,359.5 L164.0,358.1 L165.0,356.6 L166.0,355.1 L167.0,353.6 L168.0,352.1 L169.0,350.5 L170.0,348.9 L171.0,347.3 L172.0,345.6 L173.0,344.0 L174.0,342.4 L175.0,340.9 L176.0,339.4 L177.0,337.9 L178.0,336.5 L179.0,335.1 L180.0,333.8 L181.0,332.5 L182.0,331.1 L183.0,329.8 L184.0,328.5 L185.0,327.2 L186.0,325.9 L187.0,324.6 L188.0,323.3 L189.0,322.0 L190.0,320.7 L191.0,319.4 L192.0,318.1 L193.0,316.9 L194.0,315.6 L195.0,314.3 L196.0,313.0 L197.0,311.7 L198.0,310.4 L199.0,309.2 L200.0,307.9 L201.0,306.6 L202.0,305.3 L203.0,304.1 L204.0,302.8 L205.0,301.6 L206.0,300.3 L207.0,299.0 L208.0,297.8 L209.0,296.6 L210.0,295.3 L211.0,294.1 L212.0,292.8 L213.0,291.6 L214.0,290.4 L215.0,289.2 L216.0,287.9 L217.0,286.7 L218.0,285.5 L219.0,284.3 L220.0,283.1 L221.0,281.9 L222.0,280.7 L223.0,279.6 L224.0,278.4 L225.0,277.2 L226.0,276.0 L227.0,274.9 L228.0,273.7 L229.0,272.6 L230.0,271.4 L231.0,270.3 L232.0,269.1 L233.0,268.0 L234.0,266.9 L235.0,265.8 L236.0,264.6 L237.0,263.5 L238.0,262.4 L239.0,261.4 L240.0,260.3 L241.0,259.2 L242.0,258.1 L243.0,257.1 L244.0,256.0 L245.0,255.0 L246.0,253.9 L247.0,252.9 L248.0,251.9 L249.0,250.8 L250.0,249.8 L251.0,248.8 L252.0,247.8 L253.0,246.8 L254.0,245.9 L255.0,244.9 L256.0,243.9 L257.0,243.0 L258.0,242.0 L259.0,241.1 L260.0,240.1 L261.0,239.2 L262.0,238.3 L263.0,237.4 L264.0,236.5 L265.0,235.6 L266.0,234.8 L267.0,233.9 L268.0,233.0 L269.0,232.2 L270.0,231.4 L271.0,230.5 L272.0,229.7 L273.0,228.9 L274.0,228.1 L275.0,227.3 L276.0,226.5 L277.0,225.8 L278.0,225.0 L279.0,224.3 L280.0,223.6 L281.0,222.8 L282.0,222.1 L283.0,221.4 L284.0,220.8 L285.0,220.1 L286.0,219.4 L287.0,218.8 L288.0,218.1 L289.0,217.5 L290.0,216.9 L291.0,216.3 L292.0,215.7 L293.0,215.1 L294.0,214.6 L295.0,214.0 L296.0,213.5 L297.0,213.0 L298.0,212.5 L299.0,212.0 L300.0,211.5 L301.0,211.0 L302.0,210.6 L303.0,210.1 L304.0,209.7 L305.0,209.3 L306.0,208.9 L307.0,208.5 L308.0,208.1 L309.0,207.8 L310.0,207.4 L311.0,207.1 L312.0,206.8 L313.0,206.5 L314.0,206.1 L315.0,205.9 L316.0,205.6 L317.0,205.3 L318.0,205.0 L319.0,204.8 L320.0,204.5 L321.0,204.3 L322.0,204.1 L323.0,203.9 L324.0,203.7 L325.0,203.5 L326.0,203.3 L327.0,203.1 L328.0,202.9 L329.0,202.7 L330.0,202.6 L331.0,202.4 L332.0,202.3 L333.0,202.1 L334.0,202.0 L335.0,201.9 L336.0,201.7 L337.0,201.6 L338.0,201.5 L339.0,201.4 L340.0,201.3 L341.0,201.2 L342.0,201.1 L343.0,201.0 L344.0,200.9 L345.0,200.8 L346.0,200.8 L347.0,200.7 L348.0,200.6 L349.0,200.5 L350.0,200.5 L351.0,200.4 L352.0,200.4 L353.0,200.3 L354.0,200.2 L355.0,200.2 L356.0,200.2 L357.0,200.1 L358.0,200.1 L359.0,200.0 L360.0,200.0 L361.0,200.0 L362.0,199.9 L363.0,199.9 L364.0,199.9 L365.0,199.8 L366.0,199.8 L367.0,199.8 L368.0,199.8 L369.0,199.7 L370.0,199.7 L371.0,199.7 L372.0,199.7 L373.0,199.7 L374.0,199.7 L375.0,199.6 L376.0,199.6 L377.0,199.6 L378.0,199.6 L379.0,199.6 L380.0,199.6 L381.0,199.6 L382.0,199.6 L383.0,199.6 L384.0,199.5 L385.0,199.5 L386.0,199.5 L387.0,199.5 L388.0,199.5 L389.0,199.5 L390.0,199.5 L391.0,199.5 L392.0,199.4 L393.0,199.4 L394.0,199.4 L395.0,199.4 L396.0,199.4 L397.0,199.4 L398.0,199.3 L399.0,199.3 L400.0,199.3 L401.0,199.3 L402.0,199.2 L403.0,199.2 L404.0,199.2 L405.0,199.1 L406.0,199.1 L407.0,199.0 L408.0,199.0 L409.0,199.0 L410.0,198.9 L411.0,198.9 L412.0,198.8 L413.0,198.8 L414.0,198.7 L415.0,198.6 L416.0,198.6 L417.0,198.5 L418.0,198.4 L419.0,198.3 L420.0,198.3 L421.0,198.2 L422.0,198.1 L423.0,198.0 L424.0,197.9 L425.0,197.8 L426.0,197.7 L427.0,197.6 L428.0,197.5 L429.0,197.4 L430.0,197.3 L431.0,197.1 L432.0,197.0 L433.0,196.9 L434.0,196.7 L435.0,196.6 L436.0,196.5 L437.0,196.3 L438.0,196.2 L439.0,196.0 L440.0,195.9 L441.0,195.7 L442.0,195.5 L443.0,195.4 L444.0,195.2 L445.0,195.0 L446.0,194.8 L447.0,194.6 L448.0,194.4 L449.0,194.2 L450.0,194.0 L451.0,193.8 L452.0,193.6 L453.0,193.4 L454.0,193.2 L455.0,193.0 L456.0,192.8 L457.0,192.5 L458.0,192.3 L459.0,192.1 L460.0,191.8 L461.0,191.6 L462.0,191.3 L463.0,191.1 L464.0,190.8 L465.0,190.5 L466.0,190.3 L467.0,190.0 L468.0,189.7 L469.0,189.4 L470.0,189.1 L471.0,188.8 L472.0,188.5 L473.0,188.2 L474.0,187.9 L475.0,187.6 L476.0,187.2 L477.0,186.9 L478.0,186.6 L479.0,186.2 L480.0,185.9 L481.0,185.5 L482.0,185.1 L483.0,184.8 L484.0,184.4 L485.0,184.0 L486.0,183.6 L487.0,183.2 L488.0,182.8 L489.0,182.4 L490.0,182.0 L491.0,181.5 L492.0,181.1 L493.0,180.6 L494.0,180.2 L495.0,179.7 L496.0,179.3 L497.0,178.8 L498.0,178.3 L499.0,177.8 L500.0,177.3 L501.0,176.8 L502.0,176.3 L503.0,175.8 L504.0,175.2 L505.0,174.7 L506.0,174.1 L507.0,173.6 L508.0,173.0 L509.0,172.4 L510.0,171.8 L511.0,171.2 L512.0,170.6 L513.0,170.0 L514.0,169.4 L515.0,168.7 L516.0,168.1 L517.0,167.4 L518.0,166.8 L519.0,166.1 L520.0,165.4 L521.0,164.7 L522.0,164.0 L523.0,163.3 L524.0,162.6 L525.0,161.9 L526.0,161.2 L527.0,160.5 L528.0,159.7 L529.0,159.0 L530.0,158.3 L531.0,157.5 L532.0,156.8 L533.0,156.0 L534.0,155.3 L535.0,154.5 L536.0,153.8 L537.0,153.0 L538.0,152.3 L539.0,151.5 L540.0,150.8 L541.0,150.0 L542.0,149.3 L543.0,148.5 L544.0,147.8 L545.0,147.0 L546.0,146.3 L547.0,145.6 L548.0,144.8 L549.0,144.1 L550.0,143.4 L551.0,142.7 L552.0,142.0 L553.0,141.3 L554.0,140.6 L555.0,139.9 L556.0,139.2 L557.0,138.5 L558.0,137.9 L559.0,137.2 L560.0,136.6 L561.0,135.9 L562.0,135.3 L563.0,134.7 L564.0,134.1 L565.0,133.5 L566.0,132.9 L567.0,132.3 L568.0,131.8 L569.0,131.2 L570.0,130.7 L571.0,130.1 L572.0,129.6 L573.0,129.1 L574.0,128.6 L575.0,128.1 L576.0,127.6 L577.0,127.1 L578.0,126.7 L579.0,126.2 L580.0,125.8 L581.0,125.4 L582.0,125.0 L583.0,124.6 L584.0,124.2 L585.0,123.8 L586.0,123.4 L587.0,123.1 L588.0,122.7 L589.0,122.4 L590.0,122.1 L591.0,121.8 L592.0,121.5 L593.0,121.2 L594.0,121.0 L595.0,120.7 L596.0,120.5 L597.0,120.3 L598.0,120.1 L599.0,119.9 L600.0,119.7 L601.0,119.6 L602.0,119.4 L603.0,119.3 L604.0,119.1 L605.0,119.0 L606.0,118.9 L607.0,118.8 L608.0,118.8 L609.0,118.7 L610.0,118.7 L611.0,118.6 L612.0,118.6 L613.0,118.6 L614.0,118.6 L615.0,118.6 L616.0,118.6 L617.0,118.6 L618.0,118.7 L619.0,118.7 L620.0,118.8 L621.0,118.9 L622.0,118.9 L623.0,119.0 L624.0,119.1 L625.0,119.2 L626.0,119.4 L627.0,119.5 L628.0,119.6 L629.0,119.8 L630.0,119.9 L631.0,120.1 L632.0,120.3 L633.0,120.4 L634.0,120.6 L635.0,120.8 L636.0,121.0 L637.0,121.2 L638.0,121.5 L639.0,121.7 L640.0,121.9 L641.0,122.2 L642.0,122.4 L643.0,122.6 L644.0,122.9 L645.0,123.2 L646.0,123.4 L647.0,123.7 L648.0,124.0 L649.0,124.3 L650.0,124.6 L651.0,124.9 L652.0,125.2 L653.0,125.5 L654.0,125.8 L655.0,126.1 L656.0,126.5 L657.0,126.8 L658.0,127.2 L659.0,127.6 L660.0,127.9 L661.0,128.3 L662.0,128.8 L663.0,129.2 L664.0,129.6 L665.0,130.1 L666.0,130.6 L667.0,131.1 L668.0,131.6 L669.0,132.2 L670.0,132.7 L671.0,133.3 L672.0,133.9 L673.0,134.6 L674.0,135.2 L675.0,135.9 L676.0,136.6 L677.0,137.3 L678.0,138.0 L679.0,138.8 L680.0,139.6 L681.0,140.3 L682.0,141.1 L683.0,141.9 L684.0,142.7 L685.0,143.5 L686.0,144.3 L687.0,145.0 L688.0,145.8 L689.0,146.6 L690.0,147.4 L691.0,148.1 L692.0,148.9 L693.0,149.6 L694.0,150.3 L695.0,151.0 L696.0,151.7 L697.0,152.4 L698.0,153.0 L699.0,153.6 L700.0,154.3 L701.0,154.9 L702.0,155.4 L703.0,156.0 L704.0,156.5 L705.0,157.1 L706.0,157.5 L707.0,158.0 L708.0,158.5 L709.0,158.9 L710.0,159.3 L711.0,159.7 L712.0,160.1 L713.0,160.4 L714.0,160.7 L715.0,161.0 L716.0,161.2 L717.0,161.5 L718.0,161.7 L719.0,161.8 L720.0,162.0 L721.0,162.1 L722.0,162.2 L723.0,162.2 L724.0,162.3 L725.0,162.2 L726.0,162.2 L727.0,162.1 L728.0,162.0 L729.0,161.9 L730.0,161.7 L731.0,161.5 L732.0,161.3 L733.0,161.0 L734.0,160.7 L735.0,160.3 L736.0,159.9 L737.0,159.5 L738.0,159.1 L739.0,158.6 L740.0,158.1 L741.0,157.6 L742.0,157.1 L743.0,156.5 L744.0,155.9 L745.0,155.3 L746.0,154.7 L747.0,154.1 L748.0,153.4 L749.0,152.8 L750.0,152.1 L751.0,151.4 L752.0,150.7 L753.0,150.0 L754.0,149.3 L755.0,148.6 L756.0,147.9 L757.0,147.2 L758.0,146.5 L759.0,145.8 L760.0,145.1 L761.0,144.4 L762.0,143.7 L763.0,143.0 L764.0,142.3 L765.0,141.6 L766.0,141.0 L767.0,140.3 L768.0,139.7 L769.0,139.1 L770.0,138.5 L771.0,137.9 L772.0,137.4 L773.0,136.8 L774.0,136.3 L775.0,135.8 L776.0,135.4" stroke="#ff00ff" />
<path d="M99.0,451.9 L100.0,449.8 L101.0,447.7 L102.0,445.6 L103.0,443.5 L104.0,441.5 L105.0,439.4 L106.0,437.4 L107.0,435.4 L108.0,433.4 L109.0,431.4 L110.0,429.4 L111.0,427.4 L112.0,425.5 L113.0,423.5 L114.0,421.6 L115.0,419.7 L116.0,417.8 L117.0,415.9 L118.0,414.0 L119.0,412.2 L120.0,410.3 L121.0,408.5 L122.0,406.6 L123.0,404.8 L124.0,403.0 L125.0,401.2 L126.0,399.4 L127.0,397.6 L128.0,395.9 L129.0,394.1 L130.0,392.4 L131.0,390.6 L132.0,388.9 L133.0,387.2 L134.0,385.4 L135.0,383.7 L136.0,382.0 L137.0,380.3 L138.0,378.6 L139.0,377.0 L140.0,375.3 L141.0,373.6 L142.0,372.0 L143.0,370.3 L144.0,368.7 L145.0,367.0 L146.0,365.4 L147.0,363.8 L148.0,362.2 L149.0,360.5 L150.0,358.9 L151.0,357.3 L152.0,355.7 L153.0,354.1 L154.0,352.5 L155.0,350.9 L156.0,349.4 L157.0,347.8 L158.0,346.2 L159.0,344.6 L160.0,343.1 L161.0,341.5 L162.0,339.9 L163.0,338.4 L164.0,336.8 L165.0,335.2 L166.0,333.7 L167.0,332.1 L168.0,330.6 L169.0,329.0 L170.0,327.5 L171.0,326.0 L172.0,324.4 L173.0,322.9 L174.0,321.4 L175.0,319.8 L176.0,318.3 L177.0,316.8 L178.0,315.3 L179.0,313.8 L180.0,312.3 L181.0,310.8 L182.0,309.3 L183.0,307.8 L184.0,306.3 L185.0,304.8 L186.0,303.3 L187.0,301.9 L188.0,300.4 L189.0,298.9 L190.0,297.5 L191.0,296.0 L192.0,294.6 L193.0,293.1 L194.0,291.7 L195.0,290.3 L196.0,288.9 L197.0,287.4 L198.0,286.0 L199.0,284.6 L200.0,283.2 L201.0,281.8 L202.0,280.5 L203.0,279.1 L204.0,277.7 L205.0,276.4 L206.0,275.0 L207.0,273.7 L208.0,272.3 L209.0,271.0 L210.0,269.6 L211.0,268.3 L212.0,267.0 L213.0,265.7 L214.0,264.4 L215.0,263.1 L216.0,261.8 L217.0,260.5 L218.0,259.3 L219.0,258.0 L220.0,256.7 L221.0,255.5 L222.0,254.3 L223.0,253.0 L224.0,251.8 L225.0,250.6 L226.0,249.4 L227.0,248.1 L228.0,246.9 L229.0,245.8 L230.0,244.6 L231.0,243.4 L232.0,242.2 L233.0,241.1 L234.0,239.9 L235.0,238.8 L236.0,237.6 L237.0,236.5 L238.0,235.4 L239.0,234.3 L240.0,233.2 L241.0,232.1 L242.0,231.0 L243.0,229.9 L244.0,228.8 L245.0,227.8 L246.0,226.7 L247.0,225.6 L248.0,224.6 L249.0,223.6 L250.0,222.5 L251.0,221.5 L252.0,220.5 L253.0,219.5 L254.0,218.5 L255.0,217.5 L256.0,216.6 L257.0,215.6 L258.0,214.6 L259.0,213.7 L260.0,212.8 L261.0,211.8 L262.0,210.9 L263.0,210.0 L264.0,209.1 L265.0,208.2 L266.0,207.3 L267.0,206.4 L268.0,205.5 L269.0,204.7 L270.0,203.8 L271.0,203.0 L272.0,202.1 L273.0,201.3 L274.0,200.5 L275.0,199.7 L276.0,198.9 L277.0,198.1 L278.0,197.3 L279.0,196.5 L280.0,195.8 L281.0,195.0 L282.0,194.3 L283.0,193.5 L284.0,192.8 L285.0,192.1 L286.0,191.4 L287.0,190.7 L288.0,190.0 L289.0,189.3 L290.0,188.6 L291.0,188.0 L292.0,187.3 L293.0,186.7 L294.0,186.0 L295.0,185.4 L296.0,184.8 L297.0,184.2 L298.0,183.6 L299.0,183.0 L300.0,182.4 L301.0,181.9 L302.0,181.3 L303.0,180.8 L304.0,180.2 L305.0,179.7 L306.0,179.2 L307.0,178.7 L308.0,178.2 L309.0,177.7 L310.0,177.2 L311.0,176.7 L312.0,176.3 L313.0,175.8 L314.0,175.4 L315.0,175.0 L316.0,174.6 L317.0,174.2 L318.0,173.8 L319.0,173.4 L320.0,173.0 L321.0,172.7 L322.0,172.3 L323.0,172.0 L324.0,171.7 L325.0,171.4 L326.0,171.1 L327.0,170.8 L328.0,170.5 L329.0,170.2 L330.0,170.0 L331.0,169.7 L332.0,169.5 L333.0,169.3 L334.0,169.1 L335.0,168.9 L336.0,168.7 L337.0,168.5 L338.0,168.3 L339.0,168.2 L340.0,168.0 L341.0,167.9 L342.0,167.7 L343.0,167.6 L344.0,167.5 L345.0,167.3 L346.0,167.2 L347.0,167.1 L348.0,167.0 L349.0,166.8 L350.0,166.7 L351.0,166.6 L352.0,166.5 L353.0,166.4 L354.0,166.3 L355.0,166.1 L356.0,166.0 L357.0,165.9 L358.0,165.8 L359.0,165.7 L360.0,165.6 L361.0,165.5 L362.0,165.3 L363.0,165.2 L364.0,165.1 L365.0,165.0 L366.0,164.9 L367.0,164.8 L368.0,164.7 L369.0,164.5 L370.0,164.4 L371.0,164.3 L372.0,164.2 L373.0,164.1 L374.0,164.0 L375.0,163.9 L376.0,163.8 L377.0,163.7 L378.0,163.6 L379.0,163.5 L380.0,163.4 L381.0,163.3 L382.0,163.2 L383.0,163.1 L384.0,163.0 L385.0,162.9 L386.0,162.8 L387.0,162.7 L388.0,162.6 L389.0,162.5 L390.0,162.4 L391.0,162.3 L392.0,162.2 L393.0,162.1 L394.0,162.0 L395.0,161.9 L396.0,161.8 L397.0,161.7 L398.0,161.7 L399.0,161.6 L400.0,161.5 L401.0,161.4 L402.0,161.3 L403.0,161.2 L404.0,161.1 L405.0,161.0 L406.0,161.0 L407.0,160.9 L408.0,160.8 L409.0,160.7 L410.0,160.6 L411.0,160.5 L412.0,160.4 L413.0,160.3 L414.0,160.3 L415.0,160.2 L416.0,160.1 L417.0,160.0 L418.0,159.9 L419.0,159.8 L420.0,159.7 L421.0,159.6 L422.0,159.5 L423.0,159.4 L424.0,159.3 L425.0,159.2 L426.0,159.1 L427.0,159.0 L428.0,158.8 L429.0,158.7 L430.0,158.6 L431.0,158.5 L432.0,158.4 L433.0,158.3 L434.0,158.1 L435.0,158.0 L436.0,157.9 L437.0,157.7 L438.0,157.6 L439.0,157.5 L440.0,157.3 L441.0,157.2 L442.0,157.0 L443.0,156.9 L444.0,156.7 L445.0,156.5 L446.0,156.4 L447.0,156.2 L448.0,156.0 L449.0,155.9 L450.0,155.7 L451.0,155.5 L452.0,155.3 L453.0,155.1 L454.0,154.9 L455.0,154.7 L456.0,154.5 L457.0,154.3 L458.0,154.1 L459.0,153.9 L460.0,153.7 L461.0,153.4 L462.0,153.2 L463.0,152.9 L464.0,152.7 L465.0,152.5 L466.0,152.2 L467.0,151.9 L468.0,151.7 L469.0,151.4 L470.0,151.1 L471.0,150.8 L472.0,150.5 L473.0,150.2 L474.0,149.9 L475.0,149.6 L476.0,149.3 L477.0,149.0 L478.0,148.7 L479.0,148.3 L480.0,148.0 L481.0,147.6 L482.0,147.3 L483.0,146.9 L484.0,146.6 L485.0,146.2 L486.0,145.8 L487.0,145.4 L488.0,145.0 L489.0,144.6 L490.0,144.2 L491.0,143.8 L492.0,143.3 L493.0,142.9 L494.0,142.4 L495.0,142.0 L496.0,141.5 L497.0,141.1 L498.0,140.6 L499.0,140.1 L500.0,139.6 L501.0,139.1 L502.0,138.6 L503.0,138.0 L504.0,137.5 L505.0,136.9 L506.0,136.4 L507.0,135.8 L508.0,135.2 L509.0,134.7 L510.0,134.1 L511.0,133.5 L512.0,132.8 L513.0,132.2 L514.0,131.6 L515.0,130.9 L516.0,130.3 L517.0,129.6 L518.0,128.9 L519.0,128.2 L520.0,127.5 L521.0,126.8 L522.0,126.1 L523.0,125.3 L524.0,124.6 L525.0,123.8 L526.0,123.0 L527.0,122.3 L528.0,121.5 L529.0,120.7 L530.0,119.9 L531.0,119.0 L532.0,118.2 L533.0,117.4 L534.0,116.6 L535.0,115.7 L536.0,114.9 L537.0,114.1 L538.0,113.2 L539.0,112.4 L540.0,111.6 L541.0,110.7 L542.0,109.9 L543.0,109.1 L544.0,108.3 L545.0,107.4 L546.0,106.6 L547.0,105.8 L548.0,105.0 L549.0,104.2 L550.0,103.5 L551.0,102.7 L552.0,101.9 L553.0,101.2 L554.0,100.5 L555.0,99.7 L556.0,99.0 L557.0,98.4 L558.0,97.7 L559.0,97.0 L560.0,96.4 L561.0,95.8 L562.0,95.1 L563.0,94.6 L564.0,94.0 L565.0,93.4 L566.0,92.9 L567.0,92.3 L568.0,91.8 L569.0,91.3 L570.0,90.8 L571.0,90.4 L572.0,89.9 L573.0,89.5 L574.0,89.1 L575.0,88.7 L576.0,88.3 L577.0,87.9 L578.0,87.6 L579.0,87.3 L580.0,87.0 L581.0,86.7 L582.0,86.4 L583.0,86.2 L584.0,85.9 L585.0,85.7 L586.0,85.5 L587.0,85.3 L588.0,85.2 L589.0,85.0 L590.0,84.9 L591.0,84.8 L592.0,84.7 L593.0,84.6 L594.0,84.6 L595.0,84.5 L596.0,84.5 L597.0,84.5 L598.0,84.5 L599.0,84.4 L600.0,84.5 L601.0,84.5 L602.0,84.5 L603.0,84.5 L604.0,84.6 L605.0,84.6 L606.0,84.6 L607.0,84.7 L608.0,84.8 L609.0,84.8 L610.0,84.9 L611.0,85.0 L612.0,85.0 L613.0,85.1 L614.0,85.2 L615.0,85.2 L616.0,85.3 L617.0,85.4 L618.0,85.4 L619.0,85.5 L620.0,85.6 L621.0,85.6 L622.0,85.7 L623.0,85.8 L624.0,85.9 L625.0,85.9 L626.0,86.0 L627.0,86.1 L628.0,86.2 L629.0,86.3 L630.0,86.4 L631.0,86.5 L632.0,86.7 L633.0,86.8 L634.0,86.9 L635.0,87.1 L636.0,87.3 L637.0,87.4 L638.0,87.6 L639.0,87.8 L640.0,88.1 L641.0,88.3 L642.0,88.5 L643.0,88.8 L644.0,89.1 L645.0,89.4 L646.0,89.7 L647.0,90.0 L648.0,90.4 L649.0,90.8 L650.0,91.2 L651.0,91.6 L652.0,92.0 L653.0,92.4 L654.0,92.9 L655.0,93.4 L656.0,93.9 L657.0,94.4 L658.0,94.9 L659.0,95.4 L660.0,95.9 L661.0,96.5 L662.0,97.0 L663.0,97.6 L664.0,98.2 L665.0,98.8 L666.0,99.4 L667.0,100.0 L668.0,100.6 L669.0,101.2 L670.0,101.8 L671.0,102.5 L672.0,103.1 L673.0,103.8 L674.0,104.4 L675.0,105.1 L676.0,105.7 L677.0,106.4 L678.0,107.0 L679.0,107.7 L680.0,108.4 L681.0,109.0 L682.0,109.7 L683.0,110.3 L684.0,111.0 L685.0,111.7 L686.0,112.3 L687.0,113.0 L688.0,113.6 L689.0,114.3 L690.0,114.9 L691.0,115.6 L692.0,116.2 L693.0,116.8 L694.0,117.5 L695.0,118.1 L696.0,118.6 L697.0,119.2 L698.0,119.8 L699.0,120.3 L700.0,120.8 L701.0,121.2 L702.0,121.7 L703.0,122.1 L704.0,122.5 L705.0,122.8 L706.0,123.1 L707.0,123.4 L708.0,123.6 L709.0,123.7 L710.0,123.9 L711.0,123.9 L712.0,123.9 L713.0,123.9 L714.0,123.8 L715.0,123.6 L716.0,123.4 L717.0,123.1 L718.0,122.8 L719.0,122.3 L720.0,121.8 L721.0,121.3 L722.0,120.6 L723.0,119.9 L724.0,119.1 L725.0,118.2 L726.0,117.2 L727.0,116.1 L728.0,115.0 L729.0,113.8 L730.0,112.5 L731.0,111.2 L732.0,109.8 L733.0,108.3 L734.0,106.8 L735.0,105.2 L736.0,103.5 L737.0,101.8 L738.0,100.0 L739.0,98.2 L740.0,96.4 L741.0,94.5 L742.0,92.6 L743.0,90.6 L744.0,88.6 L745.0,86.6 L746.0,84.6 L747.0,82.5 L748.0,80.4 L749.0,78.4 L750.0,76.3 L751.0,74.2 L752.0,72.1 L753.0,70.1 L754.0,68.0 L755.0,66.0 L756.0,64.0 L757.0,62.0 L758.0,60.0 L759.0,58.1 L760.0,56.2 L761.0,54.4 L762.0,52.6 L763.0,50.8 L764.0,49.1 L765.0,47.5 L766.0,45.9 L767.0,44.4 L768.0,42.9 L769.0,41.6 L770.0,40.3 L771.0,39.1 L772.0,37.9 L773.0,36.9 L774.0,36.0 L775.0,35.1 L776.0,34.4" stroke="#007400" />
</g>
<line x1="569.5" y1="332.7" x2="623.5" y2="332.7" stroke="#000000" stroke-width="3.6" stroke-linecap="round"/>
<text x="629.00" y="340.80" class="lg">6.5m</text>
<text x="675.99" y="340.80" class="lg">T</text>
<line x1="569.5" y1="361.8" x2="623.5" y2="361.8" stroke="#ff0000" stroke-width="3.6" stroke-linecap="round"/>
<path d="M596 0L886 0L886 1409L700 1409C620 1260 420 1130 172 1060L172 830C330 880 480 960 596 1050Z" transform="translate(629.00,369.50) scale(0.00977,-0.00977)"/>
<text x="640.12" y="369.50" class="lg">5.8m</text>
<text x="687.11" y="369.50" class="lg">T</text>
<line x1="569.5" y1="390.8" x2="623.5" y2="390.8" stroke="#0000ff" stroke-width="3.6" stroke-linecap="round"/>
<text x="629.00" y="398.20" class="lg">2</text>
<path d="M596 0L886 0L886 1409L700 1409C620 1260 420 1130 172 1060L172 830C330 880 480 960 596 1050Z" transform="translate(640.12,398.20) scale(0.00977,-0.00977)"/>
<text x="651.25" y="398.20" class="lg">.0m</text>
<text x="687.11" y="398.20" class="lg">T</text>
<line x1="569.5" y1="419.9" x2="623.5" y2="419.9" stroke="#ff00ff" stroke-width="3.6" stroke-linecap="round"/>
<text x="629.00" y="426.90" class="lg">30.3m</text>
<text x="687.11" y="426.90" class="lg">T</text>
<line x1="569.5" y1="448.9" x2="623.5" y2="448.9" stroke="#007400" stroke-width="3.6" stroke-linecap="round"/>
<text x="629.00" y="455.60" class="lg">38.0m</text>
<text x="687.11" y="455.60" class="lg">T</text>
<text x="84.62" y="541.80" font-size="25px">0.</text>
<path d="M596 0L886 0L886 1409L700 1409C620 1260 420 1130 172 1060L172 830C330 880 480 960 596 1050Z" transform="translate(105.47,541.80) scale(0.01221,-0.01221)"/>
<text x="218.62" y="541.80" font-size="25px">0.2</text>
<text x="352.62" y="541.80" font-size="25px">0.3</text>
<text x="486.62" y="541.80" font-size="25px">0.4</text>
<text x="620.62" y="541.80" font-size="25px">0.5</text>
<text x="754.62" y="541.80" font-size="25px">0.6</text>
<path d="M596 0L886 0L886 1409L700 1409C620 1260 420 1130 172 1060L172 830C330 880 480 960 596 1050Z" transform="translate(49.29,519.10) scale(0.01221,-0.01221)"/>
<text x="63.19" y="519.10" font-size="25px">50</text>
<text x="49.29" y="435.10" font-size="25px">200</text>
<text x="49.29" y="352.10" font-size="25px">250</text>
<text x="49.29" y="269.10" font-size="25px">300</text>
<text x="49.29" y="186.10" font-size="25px">350</text>
<text x="49.29" y="103.10" font-size="25px">400</text>
<text x="49.29" y="20.10" font-size="25px">450</text>
<text transform="translate(446,573.3) scale(0.95,1)" text-anchor="middle" class="ax">Frequency/THz</text>
<g transform="translate(35.5,249.2) rotate(-90)"><text x="-109.82" y="0" class="ax">Absorptivity/cm<tspan dy="-14">-</tspan></text><path d="M596 0L886 0L886 1409L700 1409C620 1260 420 1130 172 1060L172 830C330 880 480 960 596 1050Z" transform="translate(92.85,-14.00) scale(0.01270,-0.01270)"/></g>
</svg>
</body></html>
